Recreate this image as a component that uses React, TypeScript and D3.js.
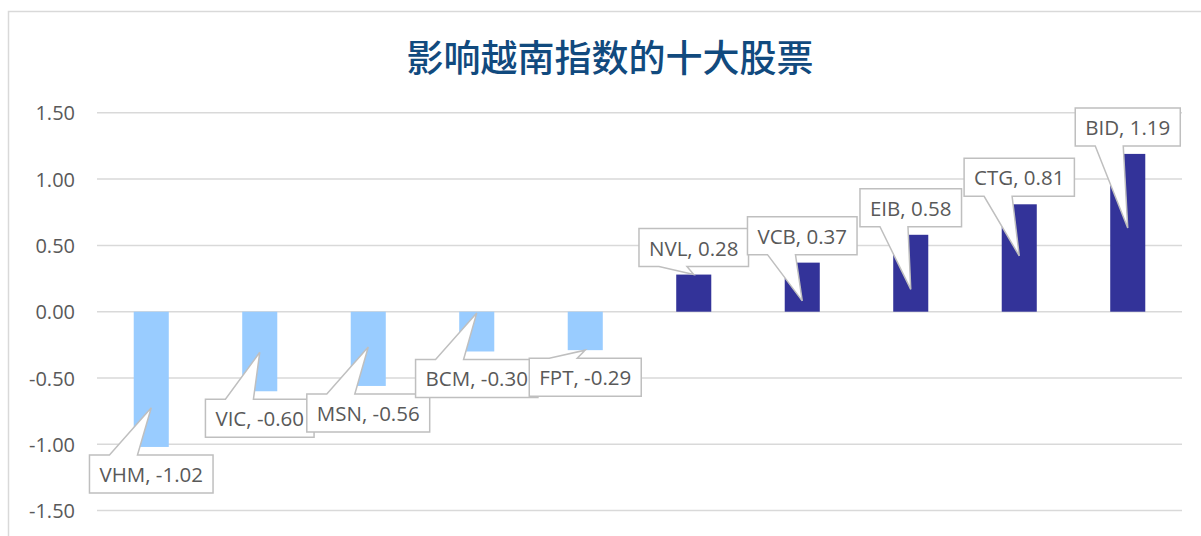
import { useEffect, useRef } from 'react';
import * as d3 from 'd3';

const title = '影响越南指数的十大股票';
const tickers = ['VHM', 'VIC', 'MSN', 'BCM', 'FPT', 'NVL', 'VCB', 'EIB', 'CTG', 'BID'];
const impacts = [-1.02, -0.6, -0.56, -0.3, -0.29, 0.28, 0.37, 0.58, 0.81, 1.19];
const yTicks = [-1.5, -1, -0.5, 0, 0.5, 1, 1.5];
// share of the bar length where each callout pointer lands
const pointerAt = [0.71, 0.51, 0.475, 0.03, 1, 1, 0.22, 0.29, 0.52, 0.53];

export default function App() {
    const svgRef = useRef<SVGSVGElement>(null);

    useEffect(() => {
        if (!svgRef.current) return;

        const svg = d3.select(svgRef.current);
        svg.selectAll('*').remove();

        const width = 1201;
        const height = 536;
        const plot = { left: 97, right: 1182, top: 112.8, bottom: 510.6 };
        const font = "'Open Sans', 'Liberation Sans', sans-serif";

        svg.attr('width', width).attr('height', height);

        // chart frame, its right and bottom edges fall outside the picture
        svg.append('rect')
            .attr('x', 8.5)
            .attr('y', 11.5)
            .attr('width', 1260)
            .attr('height', 600)
            .attr('fill', '#fff')
            .attr('stroke', '#d9d9d9')
            .attr('stroke-width', 1.5);

        svg.append('text')
            .attr('x', 610)
            .attr('y', 56)
            .attr('text-anchor', 'middle')
            .attr('dominant-baseline', 'central')
            .attr('font-family', "'Noto Sans CJK SC', sans-serif")
            .attr('font-size', 37)
            .attr('font-weight', 500)
            .attr('fill', '#114a7e')
            .text(title);

        const x = d3.scaleBand<string>()
            .domain(tickers)
            .range([plot.left, plot.right])
            .paddingInner(0.677)
            .paddingOuter(0.3385);

        const y = d3.scaleLinear()
            .domain([-1.5, 1.5])
            .range([plot.bottom, plot.top]);

        const fmt = d3.formatLocale({
            decimal: '.',
            thousands: ',',
            grouping: [3],
            currency: ['', ''],
            minus: '-',
        }).format('.2f');

        // gridlines + tick labels
        const grid = svg.append('g');
        grid.selectAll('line')
            .data(yTicks)
            .join('line')
            .attr('x1', plot.left)
            .attr('x2', plot.right)
            .attr('y1', (d) => y(d))
            .attr('y2', (d) => y(d))
            .attr('stroke', '#d9d9d9')
            .attr('stroke-width', 1.5);

        grid.selectAll('text')
            .data(yTicks)
            .join('text')
            .attr('x', 75)
            .attr('y', (d) => y(d))
            .attr('text-anchor', 'end')
            .attr('dominant-baseline', 'central')
            .attr('font-family', font)
            .attr('font-size', 20)
            .attr('fill', '#595959')
            .text((d) => fmt(d));

        // bars
        const bw = x.bandwidth();
        svg.append('g')
            .selectAll('rect')
            .data(tickers)
            .join('rect')
            .attr('x', (d) => x(d)!)
            .attr('width', bw)
            .attr('y', (d, i) => Math.min(y(impacts[i]), y(0)))
            .attr('height', (d, i) => Math.abs(y(impacts[i]) - y(0)))
            .attr('fill', (d, i) => (impacts[i] < 0 ? '#99ccff' : '#333399'));

        // callout data labels
        const labels = svg.append('g');
        tickers.forEach((t, i) => {
            const v = impacts[i];
            const cx = x(t)! + bw / 2;
            const g = labels.append('g');
            const path = g.append('path');
            const text = g.append('text')
                .attr('x', cx)
                .attr('text-anchor', 'middle')
                .attr('dominant-baseline', 'central')
                .attr('font-family', font)
                .attr('font-size', 20.5)
                .attr('fill', '#595959')
                .text(`${t}, ${fmt(v)}`);

            const tw = (text.node() as SVGTextElement).getComputedTextLength();
            const w = tw + 20;
            const h = 38;
            const left = cx - w / 2;
            const right = cx + w / 2;
            const top = v < 0 ? y(v) + 8 : y(v) - 8 - h;
            const bottom = top + h;
            const b1 = left + 20;
            const b2 = left + 48;
            const tipX = cx;
            const tipY = y(v * pointerAt[i]);

            const p = d3.path();
            if (v < 0) {
                p.moveTo(left, top);
                p.lineTo(b1, top);
                p.lineTo(tipX, tipY);
                p.lineTo(b2, top);
                p.lineTo(right, top);
                p.lineTo(right, bottom);
                p.lineTo(left, bottom);
            } else {
                p.moveTo(left, top);
                p.lineTo(right, top);
                p.lineTo(right, bottom);
                p.lineTo(b2, bottom);
                p.lineTo(tipX, tipY);
                p.lineTo(b1, bottom);
                p.lineTo(left, bottom);
            }
            p.closePath();

            path.attr('d', p.toString())
                .attr('fill', '#fff')
                .attr('stroke', '#bfbfbf')
                .attr('stroke-width', 1.5);

            text.attr('y', top + h / 2);
        });
    }, []);

    return <svg ref={svgRef} style={{ position: 'absolute', left: 0, top: 0, display: 'block' }}></svg>;
}
